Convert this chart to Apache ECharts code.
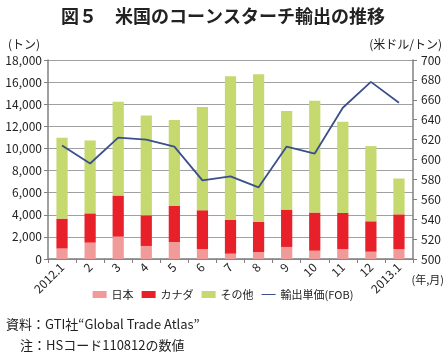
<!DOCTYPE html>
<html><head><meta charset="utf-8">
<script src="https://cdn.jsdelivr.net/npm/echarts@6/dist/echarts.min.js"></script>
<style>html,body{margin:0;padding:0;background:#fff;}#c{width:446px;height:359px;}</style>
</head><body><div id="c"></div>
<script>
const categories = ["2012.1","2","3","4","5","6","7","8","9","10","11","12","2013.1"];
const japan  = [950, 1480, 2020, 1180, 1540, 900, 480, 630, 1090, 750, 900, 660, 900];
const canada = [2700, 2650, 3720, 2770, 3260, 3510, 3080, 2720, 3380, 3450, 3270, 2750, 3140];
const other  = [7320, 6590, 8490, 9040, 7770, 9340, 12970, 13360, 8910, 10120, 8250, 6800, 3240];
const price  = [614, 596, 622, 620, 613, 579, 583, 572, 613, 606, 652, 678, 657];
const leftTicks = [0, 18000, 2000];
const rightTicks = [500, 700, 20];

const font = '"Noto Sans CJK JP", sans-serif';
const chart = echarts.init(document.getElementById('c'), null, {renderer:'canvas'});
const axisLineStyle = {show:true, lineStyle:{color:'#808080', width:1.5}};
chart.setOption({
  animation:false,
  textStyle:{fontFamily:font},
  title:{text:'図５　米国のコーンスターチ輸出の推移', left:'center', top:2,
    textStyle:{fontFamily:font, fontSize:18, fontWeight:'bold', color:'#222'}},
  grid:{left:48, right:33, top:60, bottom:100},
  legend:{bottom:54, left:'center', itemWidth:14, itemHeight:7, itemGap:8,
    textStyle:{fontSize:11, color:'#222', fontFamily:font},
    data:[{name:'日本', icon:'rect'},{name:'カナダ', icon:'rect'},{name:'その他', icon:'rect'},
          {name:'輸出単価(FOB)', icon:'path://M0,0H40V3H0Z', itemStyle:{color:'#3b4f8c'}}]},
  xAxis:{type:'category', data:categories,
    axisLine:axisLineStyle, axisTick:{show:true, inside:false, length:4, lineStyle:{color:'#808080'}},
    axisLabel:{rotate:45, fontSize:12, color:'#222', margin:6, interval:0}},
  yAxis:[
    {type:'value', min:leftTicks[0], max:leftTicks[1], interval:leftTicks[2],
     axisLine:axisLineStyle, axisTick:{show:true, length:4, lineStyle:{color:'#808080'}},
     splitLine:{lineStyle:{color:'#a0a0a0', width:1.2}},
     axisLabel:{fontSize:12, color:'#222', margin:6, formatter:v=>v.toLocaleString('en-US')}},
    {type:'value', min:rightTicks[0], max:rightTicks[1], interval:rightTicks[2],
     axisLine:axisLineStyle, axisTick:{show:true, length:4, lineStyle:{color:'#808080'}},
     splitLine:{show:false},
     axisLabel:{fontSize:12, color:'#222', margin:8}}
  ],
  series:[
    {name:'日本', type:'bar', stack:'a', data:japan, barWidth:'40%', itemStyle:{color:'#f19a9a'}},
    {name:'カナダ', type:'bar', stack:'a', data:canada, itemStyle:{color:'#e8202a'}},
    {name:'その他', type:'bar', stack:'a', data:other, itemStyle:{color:'#c5d96e'}},
    {name:'輸出単価(FOB)', type:'line', yAxisIndex:1, data:price, symbol:'none',
     lineStyle:{color:'#3b4f8c', width:1.8}, itemStyle:{color:'#3b4f8c'}}
  ],
  graphic:[
    {type:'text', left:8, top:38, style:{text:'(トン)', fontSize:12, fontFamily:font, fill:'#222'}},
    {type:'text', right:4, top:38, style:{text:'(米ドル/トン)', fontSize:12, fontFamily:font, fill:'#222'}},
    {type:'text', right:2, top:274, style:{text:'(年,月)', fontSize:11, fontFamily:font, fill:'#222'}},
    {type:'text', left:6, top:318, style:{text:'資料：GTI社“Global Trade Atlas”', fontSize:13, fontFamily:font, fill:'#222'}},
    {type:'text', left:20, top:339, style:{text:'注：HSコード110812の数値', fontSize:13, fontFamily:font, fill:'#222'}}
  ]
});
</script></body></html>
